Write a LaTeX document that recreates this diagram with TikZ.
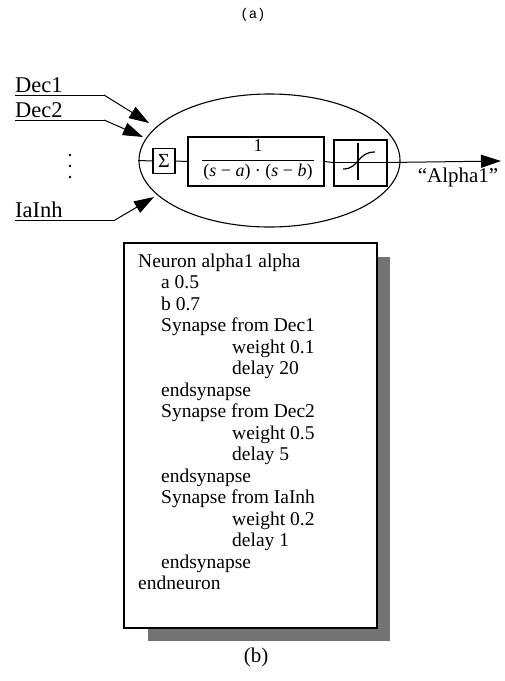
\documentclass[tikz,border=0pt]{standalone}
\usepackage{fontspec}
\setmainfont{Liberation Serif}
\newfontfamily\monofnt{Liberation Mono}
\usetikzlibrary{arrows.meta,shapes.geometric,calc}
\tikzset{
  lab/.style={font=\fontsize{21}{24}\selectfont, inner sep=0pt},
  inlab/.style={font=\fontsize{22.5}{25}\selectfont, inner sep=0pt, anchor=base west},
  code/.style={font=\fontsize{19.5}{22}\selectfont, inner sep=0pt, anchor=base west},
  frac/.style={font=\fontsize{18}{20}\selectfont, inner sep=0pt},
  wire/.style={line width=1pt},
  bigarrow/.style={-{Triangle[length=20pt,width=13pt]}, line width=1pt},
  thinbox/.style={draw, line width=1.2pt, inner sep=0pt},
  thickbox/.style={draw, line width=2pt, inner sep=0pt},
}
\begin{document}
\begin{tikzpicture}[x=1pt,y=-1pt]
\useasboundingbox (0,0) rectangle (505,681);

\node[font=\monofnt\fontsize{14}{16}\selectfont, inner sep=0pt] (capa) at (253,15) {(a)};

% inputs
\node[inlab] (dec1) at (15,92) {Dec1};
\node[inlab] (dec2) at (15,117) {Dec2};
\node[inlab] (iainh) at (15,217) {IaInh};
\fill (70,155) circle (1.3) (70,166) circle (1.3) (70,177) circle (1.3);
\coordinate (d1a) at (15,95);  \coordinate (d1b) at (104,95);  \coordinate (d1t) at (149,123);
\coordinate (d2a) at (15,120); \coordinate (d2b) at (104,120); \coordinate (d2t) at (143,137);
\coordinate (d3a) at (15,220); \coordinate (d3b) at (115,220); \coordinate (d3t) at (154,197);
\draw[wire] (d1a) -- (d1b);
\draw[bigarrow] (d1b) -- (d1t);
\draw[wire] (d2a) -- (d2b);
\draw[bigarrow] (d2b) -- (d2t);
\draw[wire] (d3a) -- (d3b);
\draw[bigarrow] (d3b) -- (d3t);

% neuron
\node[ellipse, draw, line width=1.1pt, minimum width=261pt, minimum height=133pt, inner sep=0pt] (neuron) at (269.5,160.5) {};
\node[thinbox, minimum width=22pt, minimum height=25pt, font=\fontsize{20}{22}\selectfont] (sum) at (164,161) {Σ};
\node[thickbox, minimum width=136pt, minimum height=49pt] (tf) at (256,161.5) {};
\node[frac] (num) at (258,146) {1};
\node[frac] (den) at (258,172) {(\textit{s} − \textit{a}) · (\textit{s} − \textit{b})};
\draw[line width=1pt] ($(den.north west)+(-1,-3)$) -- ($(den.north east)+(1,-3)$);
\node[thickbox, minimum width=53pt, minimum height=46pt] (sg) at (360.5,162.5) {};
\coordinate (out) at (501,161);
\draw[wire] (neuron.west) -- (sum.west);
\draw[wire] (sum.east) -- (tf.west);
\draw[wire] (tf.east) -- (sg.west);
\draw[wire] (sg.west) -- (sg.east);
\draw[bigarrow] (sg.east) -- (out);
\draw[line width=1.2pt] (358,143) -- (358,180);
\draw[line width=1.2pt] (343,169) .. controls (352,169) and (355,164) .. (358,161)
   .. controls (362,156) and (366,152) .. (375,152);
\node[lab] (alpha) at (458,177) {“Alpha1”};

% code box
\fill[black!55] (148,257) rectangle (390,641);
\node[draw, fill=white, line width=1.1pt, minimum width=253pt, minimum height=385pt, inner sep=0pt] (box) at (250.5,435.5) {};
\node[code] (l1) at (138,267) {Neuron alpha1 alpha};
\node[code] (l2) at (161,288.5) {a 0.5};
\node[code] (l3) at (161,310) {b 0.7};
\node[code] (l4) at (161,331.5) {Synapse from Dec1};
\node[code] (l5) at (232,353) {weight 0.1};
\node[code] (l6) at (232,374.5) {delay 20};
\node[code] (l7) at (161,396) {endsynapse};
\node[code] (l8) at (161,417.5) {Synapse from Dec2};
\node[code] (l9) at (232,439) {weight 0.5};
\node[code] (l10) at (232,460.5) {delay 5};
\node[code] (l11) at (161,482) {endsynapse};
\node[code] (l12) at (161,503.5) {Synapse from IaInh};
\node[code] (l13) at (232,525) {weight 0.2};
\node[code] (l14) at (232,546.5) {delay 1};
\node[code] (l15) at (161,568) {endsynapse};
\node[code] (l16) at (138,589.5) {endneuron};
\node[lab] (capb) at (256,657) {(b)};
\end{tikzpicture}
\end{document}
